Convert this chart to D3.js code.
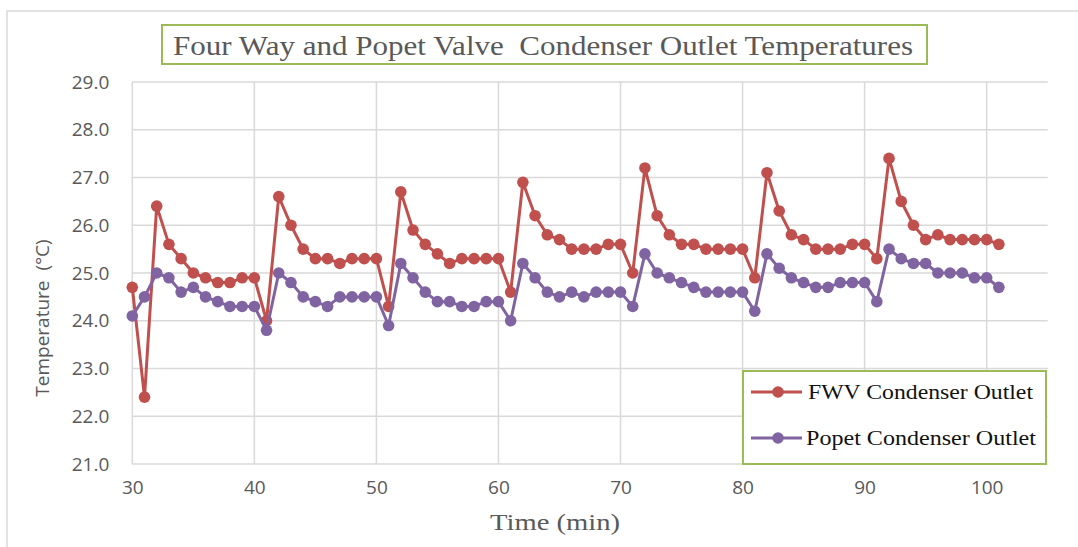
<!DOCTYPE html>
<html>
<head>
<meta charset="utf-8">
<script src="https://cdn.jsdelivr.net/npm/d3@7"></script>
<style>
  html, body { margin: 0; padding: 0; background: #fff; }
  svg { display: block; }
</style>
</head>
<body>
<svg id="chart" width="1078" height="547"></svg>
<script>
// Sample times (minutes)
const times = [30,31,32,33,34,35,36,37,38,39,40,41,42,43,44,45,46,47,48,49,50,
  51,52,53,54,55,56,57,58,59,60,61,62,63,64,65,66,67,68,69,70,
  71,72,73,74,75,76,77,78,79,80,81,82,83,84,85,86,87,88,89,90,
  91,92,93,94,95,96,97,98,99,100,101];

// Four-way valve condenser outlet temperature (°C)
const fwvTemps = [24.7,22.4,26.4,25.6,25.3,25.0,24.9,24.8,24.8,24.9,24.9,
  24.0,26.6,26.0,25.5,25.3,25.3,25.2,25.3,25.3,25.3,
  24.3,26.7,25.9,25.6,25.4,25.2,25.3,25.3,25.3,25.3,
  24.6,26.9,26.2,25.8,25.7,25.5,25.5,25.5,25.6,25.6,
  25.0,27.2,26.2,25.8,25.6,25.6,25.5,25.5,25.5,25.5,
  24.9,27.1,26.3,25.8,25.7,25.5,25.5,25.5,25.6,25.6,
  25.3,27.4,26.5,26.0,25.7,25.8,25.7,25.7,25.7,25.7,25.6];

// Poppet valve condenser outlet temperature (°C)
const popetTemps = [24.1,24.5,25.0,24.9,24.6,24.7,24.5,24.4,24.3,24.3,24.3,
  23.8,25.0,24.8,24.5,24.4,24.3,24.5,24.5,24.5,24.5,
  23.9,25.2,24.9,24.6,24.4,24.4,24.3,24.3,24.4,24.4,
  24.0,25.2,24.9,24.6,24.5,24.6,24.5,24.6,24.6,24.6,
  24.3,25.4,25.0,24.9,24.8,24.7,24.6,24.6,24.6,24.6,
  24.2,25.4,25.1,24.9,24.8,24.7,24.7,24.8,24.8,24.8,
  24.4,25.5,25.3,25.2,25.2,25.0,25.0,25.0,24.9,24.9,24.7];

const xTicks = [30,40,50,60,70,80,90,100];
const yTicks = [21,22,23,24,25,26,27,28,29];
const seriesNames = ["FWV Condenser Outlet", "Popet Condenser Outlet"];
const seriesColors = ["#c0504d", "#8064a2"];
const titleText = "Four Way and Popet Valve  Condenser Outlet Temperatures";

const svg = d3.select("#chart");
const plot = { left: 132.3, right: 1047.7, top: 82, bottom: 464 };

const x = d3.scaleLinear().domain([30, 105]).range([plot.left, plot.right]);
const y = d3.scaleLinear().domain([21, 29]).range([plot.bottom, plot.top]);

// Outer chart frame
svg.append("rect")
  .attr("x", 7).attr("y", 11).attr("width", 1100).attr("height", 560)
  .attr("fill", "#fff").attr("stroke", "#d9d9d9").attr("stroke-width", 1.5);

// Horizontal gridlines
svg.append("g").attr("class", "grid-y")
  .selectAll("line").data(yTicks).join("line")
  .attr("x1", plot.left).attr("x2", plot.right)
  .attr("y1", d => y(d)).attr("y2", d => y(d))
  .attr("stroke", "#d9d9d9").attr("stroke-width", 1.5);

// Vertical gridlines
svg.append("g").attr("class", "grid-x")
  .selectAll("line").data(xTicks).join("line")
  .attr("x1", d => x(d)).attr("x2", d => x(d))
  .attr("y1", plot.top).attr("y2", plot.bottom)
  .attr("stroke", "#d9d9d9").attr("stroke-width", 1.5);

// Y axis labels
const yAxis = d3.axisLeft(y).tickValues(yTicks).tickFormat(d3.format(".1f")).tickSize(0).tickPadding(23);
const gy = svg.append("g").attr("transform", `translate(${plot.left},0)`).call(yAxis);
gy.select(".domain").remove();
gy.selectAll("text")
  .attr("font-family", "'Open Sans', sans-serif").attr("font-size", 19)
  .attr("fill", "#595959");

// X axis labels
const xAxis = d3.axisBottom(x).tickValues(xTicks).tickFormat(d3.format("d")).tickSize(0).tickPadding(17);
const gx = svg.append("g").attr("transform", `translate(0,${plot.bottom})`).call(xAxis);
gx.select(".domain").remove();
gx.selectAll("text")
  .attr("font-family", "'Open Sans', sans-serif").attr("font-size", 19)
  .attr("fill", "#595959");

// Series
const series = [fwvTemps, popetTemps];
const line = d3.line().x((d, i) => x(times[i])).y(d => y(d));

series.forEach((vals, s) => {
  const g = svg.append("g").attr("class", "series-" + s);
  g.append("path")
    .attr("d", line(vals))
    .attr("fill", "none")
    .attr("stroke", seriesColors[s])
    .attr("stroke-width", 3)
    .attr("stroke-linejoin", "round");
  g.selectAll("circle").data(vals).join("circle")
    .attr("cx", (d, i) => x(times[i]))
    .attr("cy", d => y(d))
    .attr("r", 5.8)
    .attr("fill", seriesColors[s]);
});

// Title box
svg.append("rect")
  .attr("x", 162).attr("y", 25).attr("width", 765).attr("height", 39)
  .attr("fill", "#fff").attr("stroke", "#9bbb59").attr("stroke-width", 2);
svg.append("text")
  .attr("x", 173).attr("y", 55)
  .attr("font-family", "'Liberation Serif', 'Times New Roman', serif")
  .attr("font-size", 28)
  .attr("fill", "#595959")
  .attr("textLength", 740)
  .attr("lengthAdjust", "spacingAndGlyphs")
  .style("white-space", "pre")
  .text(titleText);

// Axis titles
svg.append("text")
  .attr("transform", "translate(49,318) rotate(-90)")
  .attr("text-anchor", "middle")
  .attr("font-family", "'Open Sans', sans-serif")
  .attr("font-size", 19)
  .attr("fill", "#595959")
  .style("white-space", "pre")
  .text("Temperature  (°C)");

svg.append("text")
  .attr("x", 555).attr("y", 530)
  .attr("text-anchor", "middle")
  .attr("font-family", "'Liberation Serif', 'Times New Roman', serif")
  .attr("font-size", 24)
  .attr("fill", "#595959")
  .attr("textLength", 130)
  .attr("lengthAdjust", "spacingAndGlyphs")
  .text("Time (min)");

// Legend
const legend = svg.append("g").attr("class", "legend");
legend.append("rect")
  .attr("x", 743).attr("y", 371).attr("width", 303).attr("height", 93)
  .attr("fill", "#fff").attr("stroke", "#9bbb59").attr("stroke-width", 2);
const legendRows = [392, 438];
seriesNames.forEach((name, s) => {
  const ly = legendRows[s];
  legend.append("line")
    .attr("x1", 751).attr("x2", 802).attr("y1", ly).attr("y2", ly)
    .attr("stroke", seriesColors[s]).attr("stroke-width", 3);
  legend.append("circle")
    .attr("cx", 778).attr("cy", ly).attr("r", 5.8)
    .attr("fill", seriesColors[s]);
  legend.append("text")
    .attr("x", s === 0 ? 808 : 806).attr("y", ly + 7)
    .attr("font-family", "'Liberation Serif', 'Times New Roman', serif")
    .attr("font-size", 22)
    .attr("fill", "#111")
    .attr("textLength", s === 0 ? 225 : 230)
    .attr("lengthAdjust", "spacingAndGlyphs")
    .text(name);
});
</script>
</body>
</html>
